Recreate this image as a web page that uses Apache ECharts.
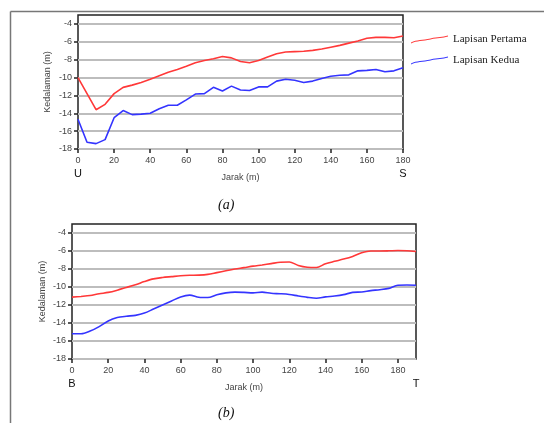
<!DOCTYPE html>
<html><head><meta charset="utf-8">
<script src="https://cdn.jsdelivr.net/npm/echarts@6/dist/echarts.min.js"></script>
<style>html,body{margin:0;padding:0;background:#fff}#c{width:544px;height:423px}</style>
</head><body><div id="c"></div>
<script>
// Chart (a): U–S profile
const xA = [0,5,10,15,20,25,30,35,40,45,50,55,60,65,70,75,80,85,90,95,100,105,110,115,120,125,130,135,140,145,150,155,160,165,170,175,180];
const pertamaA = [-10.0,-11.8,-13.6,-13.0,-11.8,-11.1,-10.85,-10.55,-10.2,-9.8,-9.4,-9.1,-8.75,-8.35,-8.1,-7.9,-7.65,-7.8,-8.2,-8.35,-8.1,-7.7,-7.33,-7.15,-7.1,-7.05,-6.96,-6.8,-6.6,-6.4,-6.15,-5.9,-5.6,-5.5,-5.5,-5.55,-5.35];
const keduaA = [-14.67,-17.25,-17.4,-16.95,-14.5,-13.7,-14.15,-14.1,-14.0,-13.5,-13.1,-13.1,-12.5,-11.85,-11.8,-11.1,-11.5,-10.96,-11.4,-11.45,-11.05,-11.05,-10.4,-10.2,-10.3,-10.55,-10.4,-10.1,-9.85,-9.75,-9.7,-9.25,-9.2,-9.1,-9.35,-9.25,-8.9];
// Chart (b): B–T profile
const xB = [0,5,10,15,20,25,30,35,40,45,50,55,60,65,70,75,80,85,90,95,100,105,110,115,120,125,130,135,140,145,150,155,160,165,170,175,180,185,190];
const pertamaB = [-11.13,-11.05,-10.95,-10.75,-10.6,-10.35,-10.05,-9.75,-9.4,-9.1,-8.95,-8.85,-8.75,-8.7,-8.68,-8.6,-8.4,-8.2,-8.0,-7.85,-7.68,-7.55,-7.4,-7.25,-7.22,-7.6,-7.8,-7.83,-7.42,-7.15,-6.9,-6.6,-6.2,-6.0,-6.0,-5.98,-5.95,-5.98,-6.05];
const keduaB = [-15.2,-15.2,-14.9,-14.4,-13.77,-13.4,-13.25,-13.15,-12.9,-12.45,-12.0,-11.55,-11.1,-10.9,-11.13,-11.17,-10.87,-10.65,-10.57,-10.6,-10.65,-10.57,-10.7,-10.75,-10.83,-11.0,-11.15,-11.25,-11.1,-11.0,-10.85,-10.6,-10.55,-10.4,-10.3,-10.15,-9.8,-9.78,-9.8];
const yTicks = [-18,-16,-14,-12,-10,-8,-6,-4];
const xTicksA = [0,20,40,60,80,100,120,140,160,180];
const xTicksB = [0,20,40,60,80,100,120,140,160,180];
const endLabelsA = {0:'U',180:'S'};
const endLabelsB = {0:'B',190:'T'};
const seriesNames = ['Lapisan Pertama','Lapisan Kedua'];
const captions = ['(a)','(b)'];
const axisNameY = 'Kedalaman (m)';
const axisNameX = 'Jarak (m)';

const RED = '#ff3838', BLUE = '#3434ff';
const font = 'Liberation Sans, Arial, sans-serif';
const serif = 'Liberation Serif, DejaVu Serif, serif';

function xAxis(gi, max, ticks, ends){
  const labelVals = ticks.slice();
  Object.keys(ends).forEach(k=>{ if(!labelVals.includes(+k)) labelVals.push(+k); });
  return {
    type:'value', gridIndex:gi, min:0, max:max,
    name: axisNameX, nameLocation:'middle', nameGap:24, nameMoveOverlap:false,
    nameTextStyle:{fontFamily:font,fontSize:9,color:'#444'},
    axisLine:{show:false},
    axisTick:{show:true, customValues:ticks, length:4, lineStyle:{color:'#222',width:1.5}},
    axisLabel:{customValues:labelVals, margin:6, color:'#444', fontFamily:font, fontSize:9, lineHeight:13,
      formatter:v=>{ const e=ends[v]; const n = ticks.includes(v)? String(v):''; return e? '{n|'+n+'}\n{e|'+e+'}' : '{n|'+n+'}'; },
      rich:{n:{fontFamily:font,fontSize:9,color:'#444',lineHeight:12},e:{fontFamily:font,fontSize:11,color:'#111',lineHeight:14}}},
    splitLine:{show:false}
  };
}
function yAxis(gi, gap){
  return {
    type:'value', gridIndex:gi, min:-18, max:-3,
    name: axisNameY, nameLocation:'middle', nameGap:gap, nameRotate:90, nameMoveOverlap:false,
    nameTextStyle:{fontFamily:font,fontSize:9,color:'#444'},
    axisLine:{show:false},
    axisTick:{show:true, customValues:yTicks, length:4, lineStyle:{color:'#222',width:1.5}},
    axisLabel:{customValues:yTicks, margin:6, color:'#444', fontFamily:font, fontSize:9},
    splitLine:{show:true, lineStyle:{color:'#bdbdbd', width:2}}
  };
}
function pairs(xs, ys){ return xs.map((x,i)=>[x,ys[i]]); }

const chart = echarts.init(document.getElementById('c'), null, {renderer:'canvas'});
chart.setOption({
  animation:false,
  backgroundColor:'#fff',
  title:[
    {text:captions[0], left:213, top:193, textStyle:{fontFamily:serif,fontStyle:'italic',fontWeight:'normal',fontSize:14,color:'#111'}},
    {text:captions[1], left:213, top:401, textStyle:{fontFamily:serif,fontStyle:'italic',fontWeight:'normal',fontSize:14,color:'#111'}}
  ],
  legend:{
    data:seriesNames, orient:'vertical', left:406, top:29, itemGap:10,
    itemWidth:37, itemHeight:8,
    icon:'path://M0,7 C6,4 12,5 20,3 C28,1 32,2 38,0 L38,1 C32,3 28,2 20,4 C12,6 6,5 0,8 Z',
    textStyle:{fontFamily:serif,fontSize:11,color:'#222'}
  },
  graphic:[
    {type:'line', shape:{x1:10.5,y1:11.5,x2:544,y2:11.5}, style:{stroke:'#777',lineWidth:1.5}, silent:true},
    {type:'line', shape:{x1:10.5,y1:11.5,x2:10.5,y2:423}, style:{stroke:'#777',lineWidth:1.5}, silent:true}
  ],
  grid:[
    {left:78, top:15, width:325, height:134, show:true, borderColor:'#222', borderWidth:1.5, backgroundColor:'transparent'},
    {left:72, top:224, width:344, height:135, show:true, borderColor:'#222', borderWidth:1.5, backgroundColor:'transparent'}
  ],
  xAxis:[xAxis(0,180,xTicksA,endLabelsA), xAxis(1,190,xTicksB,endLabelsB)],
  yAxis:[yAxis(0,26), yAxis(1,25)],
  series:[
    {name:seriesNames[0], type:'line', xAxisIndex:0, yAxisIndex:0, data:pairs(xA,pertamaA), symbol:'none', lineStyle:{color:RED,width:1.6}, itemStyle:{color:RED}},
    {name:seriesNames[1], type:'line', xAxisIndex:0, yAxisIndex:0, data:pairs(xA,keduaA), symbol:'none', lineStyle:{color:BLUE,width:1.6}, itemStyle:{color:BLUE}},
    {name:seriesNames[0], type:'line', xAxisIndex:1, yAxisIndex:1, data:pairs(xB,pertamaB), smooth:0.3, symbol:'none', lineStyle:{color:RED,width:1.6}, itemStyle:{color:RED}},
    {name:seriesNames[1], type:'line', xAxisIndex:1, yAxisIndex:1, data:pairs(xB,keduaB), smooth:0.3, symbol:'none', lineStyle:{color:BLUE,width:1.6}, itemStyle:{color:BLUE}}
  ]
});
</script></body></html>
